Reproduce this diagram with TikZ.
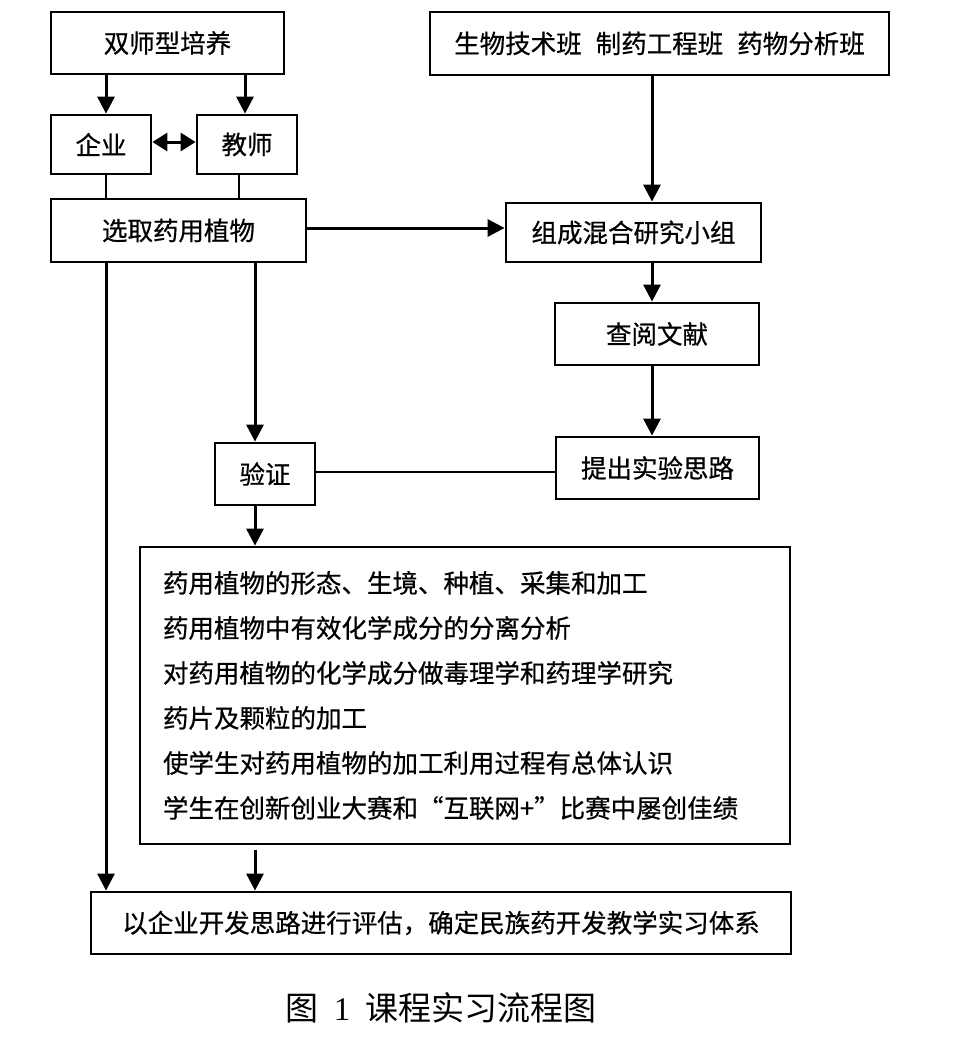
\documentclass[tikz,border=0pt]{standalone}
\usepackage{fontspec}
\setmainfont{Noto Sans CJK SC}[FakeBold=0.6]
\newfontfamily\captionfont{Noto Sans CJK SC}
\newfontfamily\serifnum{Liberation Serif}
\usetikzlibrary{arrows.meta}
\tikzset{
  box/.style={draw=black, line width=2.8pt, fill=white, inner sep=0pt,
    font=\fontsize{25.5}{30}\selectfont, anchor=center},
  arr/.style={line width=3pt, -{Triangle[length=17pt,width=17pt]}},
  darr/.style={line width=3pt, {Triangle[length=15pt,width=18pt]}-{Triangle[length=15pt,width=18pt]}},
  plain/.style={line width=2.2pt}
}
\begin{document}
\begin{tikzpicture}[x=1pt,y=-1pt]
\useasboundingbox (0,0) rectangle (957,1052);
% nodes
\node[box, minimum width=233pt, minimum height=62pt] (dual) at (167.5,43) {双师型培养};
\node[box, minimum width=100pt, minimum height=59pt] (qiye) at (101,144.5) {企业};
\node[box, minimum width=100pt, minimum height=59pt] (jiaoshi) at (247,144.5) {教师};
\node[box, minimum width=255pt, minimum height=63pt] (xuanqu) at (178.5,230.5) {选取药用植物};
\node[box, minimum width=459pt, minimum height=63pt] (classes) at (659.5,43.5) {生物技术班\hspace{0.55em}制药工程班\hspace{0.55em}药物分析班};
\node[box, minimum width=255pt, minimum height=59pt] (zucheng) at (633.5,232.5) {组成混合研究小组};
\node[box, minimum width=204pt, minimum height=62pt] (chayue) at (657,334) {查阅文献};
\node[box, minimum width=203pt, minimum height=62pt] (tichu) at (657.5,468) {提出实验思路};
\node[box, minimum width=100pt, minimum height=62pt] (yanzheng) at (265,474) {验证};
\node[box, minimum height=297pt, text width=604pt, inner xsep=23pt, align=left,
  font=\fontsize{25.5}{45}\selectfont] (big) at (465,695.5) {%
药用植物的形态、生境、种植、采集和加工\\
药用植物中有效化学成分的分离分析\\
对药用植物的化学成分做毒理学和药理学研究\\
药片及颗粒的加工\\
使学生对药用植物的加工利用过程有总体认识\\
学生在创新创业大赛和“互联网+”比赛中屡创佳绩};
\node[box, minimum width=700pt, minimum height=62pt] (final) at (441,923) {以企业开发思路进行评估，确定民族药开发教学实习体系};
\node[font=\captionfont\fontsize{33}{36}\selectfont, inner sep=0pt] (caption) at (441,1008) {图\hspace{0.45em}{\serifnum 1}\hspace{0.45em}课程实习流程图};
% x positions
\coordinate (x106) at (106,0);
\coordinate (x245) at (245,0);
\coordinate (x239) at (239,0);
\coordinate (x255) at (255,0);
\coordinate (x652) at (652,0);
\coordinate (y142) at (0,142);
\coordinate (y228) at (0,228);
\coordinate (y472) at (0,472);
\coordinate (bigout) at (255,850);
% connectors
\draw[arr] (dual.south -| x106) -- (qiye.north -| x106);
\draw[arr] (dual.south -| x245) -- (jiaoshi.north -| x245);
\draw[darr] (qiye.east |- y142) -- (jiaoshi.west |- y142);
\draw[plain] (qiye.south -| x106) -- (xuanqu.north -| x106);
\draw[plain] (jiaoshi.south -| x239) -- (xuanqu.north -| x239);
\draw[arr] (classes.south -| x652) -- (zucheng.north -| x652);
\draw[arr] (xuanqu.east |- y228) -- (zucheng.west |- y228);
\draw[arr] (zucheng.south -| x652) -- (chayue.north -| x652);
\draw[arr] (chayue.south -| x652) -- (tichu.north -| x652);
\draw[arr] (xuanqu.south -| x255) -- (yanzheng.north -| x255);
\draw[plain] (yanzheng.east |- y472) -- (tichu.west |- y472);
\draw[arr] (yanzheng.south -| x255) -- (big.north -| x255);
\draw[arr] (xuanqu.south -| x106) -- (final.north -| x106);
\draw[arr] (bigout) -- (final.north -| bigout);
\end{tikzpicture}
\end{document}
